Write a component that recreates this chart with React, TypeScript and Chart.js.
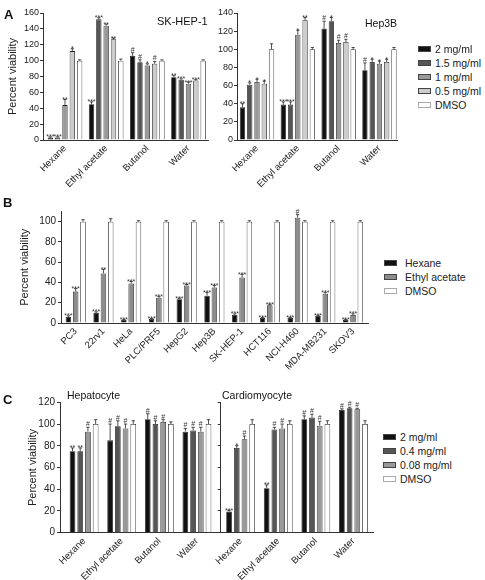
import React, { useEffect, useRef } from "react";
import { Chart, registerables } from "chart.js";

Chart.register(...registerables);

const FONT = "'Liberation Sans', Arial, Helvetica, sans-serif";

// ---------------- Panel A data ----------------
const extractLabels = ["Hexane", "Ethyl acetate", "Butanol", "Water"];
const doseLabelsA = ["2 mg/ml", "1.5 mg/ml", "1 mg/ml", "0.5 mg/ml", "DMSO"];

const skHep1_2mg = [3, 45, 106, 79];
const skHep1_1p5mg = [3, 152, 98, 76];
const skHep1_1mg = [44, 144, 94, 71];
const skHep1_0p5mg = [112, 127, 96, 75];
const skHep1_dmso = [100, 100, 100, 100];
const skHep1Err_2mg = [1, 3, 4, 2];
const skHep1Err_1p5mg = [1, 2, 3, 1];
const skHep1Err_1mg = [7, 2, 2, 2];
const skHep1Err_0p5mg = [3, 1.5, 3, 1];
const skHep1Err_dmso = [1, 2, 1, 1];
const skHep1Sig_2mg = ["***", "***", "#", "**"];
const skHep1Sig_1p5mg = ["***", "***", "#", "***"];
const skHep1Sig_1mg = ["**", "**", "*", "***"];
const skHep1Sig_0p5mg = ["*", "**", "#", "***"];
const skHep1Sig_dmso = ["", "", "", ""];

const hep3b_2mg = [36, 39, 123, 77];
const hep3b_1p5mg = [61, 39, 131, 86];
const hep3b_1mg = [64, 116, 107, 84];
const hep3b_0p5mg = [62, 132, 108, 86];
const hep3b_dmso = [100, 100, 100, 100];
const hep3bErr_2mg = [4, 3, 8, 8];
const hep3bErr_1p5mg = [2, 3, 4, 3];
const hep3bErr_1mg = [3, 5, 3, 3];
const hep3bErr_0p5mg = [3, 3, 3, 3];
const hep3bErr_dmso = [6, 2, 2, 2];
const hep3bSig_2mg = ["**", "***", "#", "#"];
const hep3bSig_1p5mg = ["*", "***", "*", "*"];
const hep3bSig_1mg = ["*", "*", "#", "*"];
const hep3bSig_0p5mg = ["*", "**", "#", "*"];
const hep3bSig_dmso = ["", "", "", ""];

// ---------------- Panel B data ----------------
const cellLines = ["PC3", "22rv1", "HeLa", "PLC/PRF5", "HepG2", "Hep3B", "SK-HEP-1", "HCT116", "NCI-H460", "MDA-MB231", "SKOV3"];
const extractLabelsB = ["Hexane", "Ethyl acetate", "DMSO"];
const lineHexane = [6, 10, 3, 4, 23.5, 27, 8, 5, 5, 7, 3];
const lineEthylAcetate = [31, 49, 39, 25, 37, 35, 45, 17.5, 104, 29, 8];
const lineDmso = [100, 100, 100, 100, 100, 100, 100, 100, 100, 100, 100];
const lineHexaneErr = [1, 1, 0.5, 0.5, 1, 3, 1, 0.5, 0.5, 0.5, 0.5];
const lineEthylAcetateErr = [3, 4, 2, 1, 1, 2, 3, 1, 3, 1, 1];
const lineDmsoErr = [2, 3, 1, 1, 1, 1, 1, 1, 1, 1, 1];
const lineHexaneSig = ["***", "***", "***", "***", "***", "***", "***", "***", "***", "***", "***"];
const lineEthylAcetateSig = ["***", "**", "***", "***", "***", "***", "***", "***", "#", "***", "***"];
const lineDmsoSig = ["", "", "", "", "", "", "", "", "", "", ""];

// ---------------- Panel C data ----------------
const doseLabelsC = ["2 mg/ml", "0.4 mg/ml", "0.08 mg/ml", "DMSO"];
const hepato_2mg = [75, 85, 104.5, 93];
const hepato_0p4mg = [75, 98, 100, 94];
const hepato_0p08mg = [93, 96, 102, 93];
const hepato_dmso = [100, 100, 100, 100];
const hepatoErr_2mg = [3, 15, 5, 3];
const hepatoErr_0p4mg = [3, 5, 3, 3];
const hepatoErr_0p08mg = [4, 4, 2, 4];
const hepatoErr_dmso = [4, 3, 2, 4];
const hepatoSig_2mg = ["**", "#", "#", "#"];
const hepatoSig_0p4mg = ["**", "#", "#", "#"];
const hepatoSig_0p08mg = ["#", "#", "#", "#"];
const hepatoSig_dmso = ["", "", "", ""];

const cardio_2mg = [19.5, 41, 104.5, 113];
const cardio_0p4mg = [78, 95, 106, 114.5];
const cardio_0p08mg = [86, 96, 98.5, 113.5];
const cardio_dmso = [100, 100, 100, 100];
const cardioErr_2mg = [1, 3, 3, 1];
const cardioErr_0p4mg = [2, 2, 3, 1];
const cardioErr_0p08mg = [3, 4, 4, 1];
const cardioErr_dmso = [4, 3, 3, 3];
const cardioSig_2mg = ["***", "**", "#", "#"];
const cardioSig_0p4mg = ["*", "#", "#", "#"];
const cardioSig_0p08mg = ["#", "#", "#", "#"];
const cardioSig_dmso = ["", "", "", ""];

// ---------------- styles ----------------
const C_BLACK = "#111111";
const C_DARK = "#555555";
const C_MID = "#999999";
const C_LIGHT = "#cccccc";
const C_WHITE = "#ffffff";
const colorsA = [C_BLACK, C_DARK, C_MID, C_LIGHT, C_WHITE];
const colorsB = [C_BLACK, "#8c8c8c", C_WHITE];
const colorsC = [C_BLACK, C_DARK, C_MID, C_WHITE];

type Series = { label: string; data: number[]; err: number[]; sig: string[]; color: string };

type PanelCfg = {
  left: number; top: number; width: number; height: number;
  padTop: number; padRight: number;
  yWidth: number; xHeight: number;
  categories: string[]; series: Series[];
  yMax: number; yTickMax: number; yStep: number;
  xMin: number; xMax: number;
  catPct: number; barPct: number;
  yTitle?: string; yTitlePad?: number;
  showYLabels: boolean; yFont: number; tickLen: number; tickPad: number;
};

const errSigPlugin = {
  id: "errSig",
  afterDatasetsDraw(chart: any) {
    const ctx = chart.ctx;
    const yScale = chart.scales.y;
    chart.data.datasets.forEach((ds: any, di: number) => {
      const meta = chart.getDatasetMeta(di);
      meta.data.forEach((bar: any, i: number) => {
        const v = ds.data[i].y;
        const e = ds.err[i];
        const top = yScale.getPixelForValue(v);
        const yE = yScale.getPixelForValue(v + e);
        const hw = Math.max(1.5, bar.width * 0.3);
        ctx.save();
        ctx.strokeStyle = "#222";
        ctx.lineWidth = 0.8;
        ctx.beginPath();
        ctx.moveTo(bar.x, top);
        ctx.lineTo(bar.x, yE);
        ctx.moveTo(bar.x - hw, yE);
        ctx.lineTo(bar.x + hw, yE);
        ctx.stroke();
        const s = ds.sig[i];
        if (s) {
          ctx.fillStyle = "#333";
          ctx.font = `7px ${FONT}`;
          ctx.textAlign = "center";
          ctx.textBaseline = "alphabetic";
          const yy = s.indexOf("#") >= 0 ? yE - 1 : yE + 2.5;
          ctx.fillText(s, bar.x, yy);
        }
        ctx.restore();
      });
    });
  },
};

function BarPanel({ cfg }: { cfg: PanelCfg }) {
  const ref = useRef<HTMLCanvasElement | null>(null);
  useEffect(() => {
    if (!ref.current) return;
    const chart = new Chart(ref.current, {
      type: "bar",
      data: {
        datasets: cfg.series.map((s) => ({
          label: s.label,
          data: s.data.map((v, i) => ({ x: i, y: v })),
          err: s.err,
          sig: s.sig,
          backgroundColor: s.color,
          borderColor: "#222",
          borderWidth: 0.8,
          categoryPercentage: cfg.catPct,
          barPercentage: cfg.barPct,
        })) as any,
      },
      options: {
        responsive: false,
        animation: false,
        devicePixelRatio: 1,
        layout: { padding: { left: 0, top: cfg.padTop, right: cfg.padRight, bottom: 0 } },
        plugins: { legend: { display: false }, tooltip: { enabled: false } },
        scales: {
          x: {
            type: "linear",
            min: cfg.xMin,
            max: cfg.xMax,
            offset: false,
            afterBuildTicks: (s: any) => {
              s.ticks = cfg.categories.map((_, i) => ({ value: i }));
            },
            afterFit: (s: any) => {
              s.height = cfg.xHeight;
            },
            grid: { display: false, drawTicks: false },
            border: { display: true, color: "#333", width: 1 },
            ticks: {
              autoSkip: false,
              minRotation: 45,
              maxRotation: 45,
              padding: 3,
              color: "#222",
              font: { family: FONT, size: 9.5 },
              callback: (v: any) => cfg.categories[v] ?? "",
            },
          },
          y: {
            min: 0,
            max: cfg.yMax,
            afterBuildTicks: (s: any) => {
              const t: any[] = [];
              for (let v = 0; v <= cfg.yTickMax; v += cfg.yStep) t.push({ value: v });
              s.ticks = t;
            },
            afterFit: (s: any) => {
              s.width = cfg.yWidth;
            },
            grid: { display: true, drawOnChartArea: false, drawTicks: true, tickLength: cfg.tickLen, color: "#333", lineWidth: 1 },
            border: { display: true, color: "#333", width: 1 },
            ticks: { display: cfg.showYLabels, padding: cfg.tickPad, color: "#222", font: { family: FONT, size: cfg.yFont } },
            title: {
              display: !!cfg.yTitle,
              text: cfg.yTitle || "",
              color: "#222",
              font: { family: FONT, size: 11 },
              padding: { top: cfg.yTitlePad || 0, bottom: 0 },
            },
          },
        },
      } as any,
      plugins: [errSigPlugin],
    });
    return () => chart.destroy();
  }, []);
  return (
    <canvas
      ref={ref}
      width={cfg.width}
      height={cfg.height}
      style={{ position: "absolute", left: cfg.left, top: cfg.top, width: cfg.width, height: cfg.height }}
    />
  );
}

function mk(labels: string[], data: number[][], err: number[][], sig: string[][], colors: string[]): Series[] {
  return labels.map((l, i) => ({ label: l, data: data[i], err: err[i], sig: sig[i], color: colors[i] }));
}

const seriesSkHep1 = mk(
  doseLabelsA,
  [skHep1_2mg, skHep1_1p5mg, skHep1_1mg, skHep1_0p5mg, skHep1_dmso],
  [skHep1Err_2mg, skHep1Err_1p5mg, skHep1Err_1mg, skHep1Err_0p5mg, skHep1Err_dmso],
  [skHep1Sig_2mg, skHep1Sig_1p5mg, skHep1Sig_1mg, skHep1Sig_0p5mg, skHep1Sig_dmso],
  colorsA
);
const seriesHep3b = mk(
  doseLabelsA,
  [hep3b_2mg, hep3b_1p5mg, hep3b_1mg, hep3b_0p5mg, hep3b_dmso],
  [hep3bErr_2mg, hep3bErr_1p5mg, hep3bErr_1mg, hep3bErr_0p5mg, hep3bErr_dmso],
  [hep3bSig_2mg, hep3bSig_1p5mg, hep3bSig_1mg, hep3bSig_0p5mg, hep3bSig_dmso],
  colorsA
);
const seriesLines = mk(
  extractLabelsB,
  [lineHexane, lineEthylAcetate, lineDmso],
  [lineHexaneErr, lineEthylAcetateErr, lineDmsoErr],
  [lineHexaneSig, lineEthylAcetateSig, lineDmsoSig],
  colorsB
);
const seriesHepato = mk(
  doseLabelsC,
  [hepato_2mg, hepato_0p4mg, hepato_0p08mg, hepato_dmso],
  [hepatoErr_2mg, hepatoErr_0p4mg, hepatoErr_0p08mg, hepatoErr_dmso],
  [hepatoSig_2mg, hepatoSig_0p4mg, hepatoSig_0p08mg, hepatoSig_dmso],
  colorsC
);
const seriesCardio = mk(
  doseLabelsC,
  [cardio_2mg, cardio_0p4mg, cardio_0p08mg, cardio_dmso],
  [cardioErr_2mg, cardioErr_0p4mg, cardioErr_0p08mg, cardioErr_dmso],
  [cardioSig_2mg, cardioSig_0p4mg, cardioSig_0p08mg, cardioSig_dmso],
  colorsC
);

const panelA1: PanelCfg = {
  left: 0, top: 0, width: 214, height: 192, padTop: 13, padRight: 5.5, yWidth: 43, xHeight: 52,
  categories: extractLabels, series: seriesSkHep1, yMax: 160, yTickMax: 160, yStep: 20,
  xMin: -0.534, xMax: 3.486, catPct: 0.89, barPct: 0.73,
  yTitle: "Percent viability", yTitlePad: 6.2, showYLabels: true, yFont: 9, tickLen: 3, tickPad: 1,
};
const panelA2: PanelCfg = {
  left: 205, top: 0, width: 197, height: 192, padTop: 13, padRight: 5, yWidth: 32, xHeight: 52,
  categories: extractLabels, series: seriesHep3b, yMax: 140, yTickMax: 140, yStep: 20,
  xMin: -0.49, xMax: 3.43, catPct: 0.89, barPct: 0.73,
  showYLabels: true, yFont: 9, tickLen: 3, tickPad: 1,
};
const panelB: PanelCfg = {
  left: 0, top: 200, width: 373, height: 178, padTop: 11.6, padRight: 5, yWidth: 61, xHeight: 55,
  categories: cellLines, series: seriesLines, yMax: 110, yTickMax: 100, yStep: 20,
  xMin: -0.53, xMax: 10.54, catPct: 0.79, barPct: 0.75,
  yTitle: "Percent viability", yTitlePad: 18, showYLabels: true, yFont: 10, tickLen: 3, tickPad: 2,
};
const panelC1: PanelCfg = {
  left: 0, top: 390, width: 223, height: 190, padTop: 12.3, padRight: 5, yWidth: 60, xHeight: 47.3,
  categories: extractLabels, series: seriesHepato, yMax: 120, yTickMax: 120, yStep: 20,
  xMin: -0.64, xMax: 3.56, catPct: 0.82, barPct: 0.74,
  yTitle: "Percent viability", yTitlePad: 26, showYLabels: true, yFont: 10, tickLen: 3, tickPad: 2,
};
const panelC2: PanelCfg = {
  left: 200, top: 390, width: 178, height: 190, padTop: 12.3, padRight: 5, yWidth: 20.7, xHeight: 47.3,
  categories: extractLabels, series: seriesCardio, yMax: 120, yTickMax: 120, yStep: 20,
  xMin: -0.53, xMax: 3.52, catPct: 0.82, barPct: 0.74,
  showYLabels: false, yFont: 10, tickLen: 3, tickPad: 2,
};

function Legend({ labels, colors, sqX, textX, y0, step }: { labels: string[]; colors: string[]; sqX: number; textX: number; y0: number; step: number }) {
  return (
    <>
      {labels.map((l, i) => (
        <div key={l} style={{ position: "absolute", left: sqX, top: y0 + step * i - 7, height: 14, display: "flex", alignItems: "center", whiteSpace: "nowrap" }}>
          <span
            style={{
              display: "inline-block",
              width: 13,
              height: 6,
              boxSizing: "border-box",
              background: colors[i],
              border: `1px solid ${colors[i] === C_WHITE ? "#aaa" : "#444"}`,
              marginRight: textX - sqX - 13,
            }}
          />
          <span style={{ fontSize: 10.5, color: "#222", fontFamily: FONT, lineHeight: "14px" }}>{l}</span>
        </div>
      ))}
    </>
  );
}

const txt = (s: string, left: number, top: number, size: number, bold = false) => (
  <div style={{ position: "absolute", left, top, fontSize: size, lineHeight: `${size}px`, fontWeight: bold ? 700 : 400, color: "#111", fontFamily: FONT, whiteSpace: "nowrap" }}>
    {s}
  </div>
);

export default function App() {
  return (
    <div style={{ position: "absolute", left: 0, top: 0, width: 485, height: 580, background: "#fff", overflow: "hidden", fontFamily: FONT }}>
      <BarPanel cfg={panelA1} />
      <BarPanel cfg={panelA2} />
      <BarPanel cfg={panelB} />
      <BarPanel cfg={panelC1} />
      <BarPanel cfg={panelC2} />
      {txt("A", 4, 7.5, 13, true)}
      {txt("B", 3, 195.5, 13, true)}
      {txt("C", 3, 392.5, 13, true)}
      {txt("SK-HEP-1", 157, 16.2, 11)}
      {txt("Hep3B", 365, 18, 10.5)}
      {txt("Hepatocyte", 67, 389.7, 10.5)}
      {txt("Cardiomyocyte", 222, 389.7, 10.5)}
      <Legend labels={doseLabelsA} colors={colorsA} sqX={418} textX={435} y0={48.5} step={14} />
      <Legend labels={extractLabelsB} colors={colorsB} sqX={384} textX={405} y0={262.7} step={14} />
      <Legend labels={doseLabelsC} colors={colorsC} sqX={383} textX={400} y0={437.3} step={14} />
    </div>
  );
}
